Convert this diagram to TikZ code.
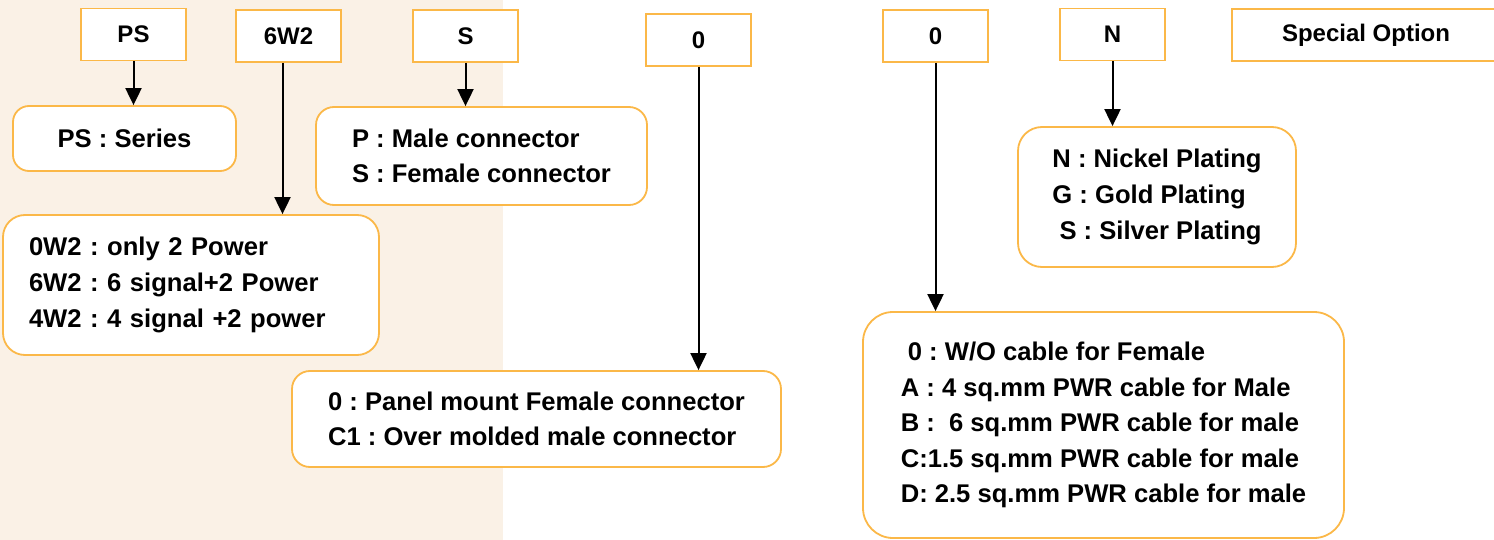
\documentclass[tikz,border=0pt]{standalone}
\usepackage{fontspec}
\setmainfont{Liberation Sans}
\frenchspacing
\usetikzlibrary{arrows.meta}
\definecolor{boxorange}{HTML}{FBB848}
\definecolor{paper}{HTML}{FAF1E6}
\tikzset{
	code/.style={draw=boxorange,line width=0.9pt,fill=white,minimum width=52.5pt,minimum height=26pt,inner sep=0pt,font=\fontsize{12}{14}\selectfont\bfseries},
	desc/.style={draw=boxorange,line width=0.9pt,fill=white,rounded corners=#1,align=left,inner sep=0pt,font=\fontsize{12.8}{17.8}\selectfont\bfseries},
	desc/.default=8pt
}
\begin{document}
\begin{tikzpicture}[x=0.5pt,y=-0.5pt,line width=1pt,>={Triangle[width=8pt,length=8.5pt]}]
	\clip(0,0) rectangle (1494,540);
	\fill[paper] (0,0) rectangle (503,540);
	% part number fields
	\node[code] (ps) at (133.5,34.5) {PS};
	\node[code] (sixw) at (288.5,36) {6W2};
	\node[code] (s) at (465.5,36) {S};
	\node[code] (zeroa) at (698.5,40) {0};
	\node[code] (zerob) at (935.5,36) {0};
	\node[code] (n) at (1112.5,34.5) {N};
	\node[code,minimum width=134pt] (special) at (1366,35) {Special Option};
	% meanings
	\node[desc,minimum width=111.5pt,minimum height=32.5pt] (series) at (124.5,138.5) {PS : Series};
	\node[desc=9pt,minimum width=165.5pt,minimum height=49pt] (gender) at (481.5,156) {P : Male connector\\S : Female connector};
	\node[desc=11pt,minimum width=188pt,minimum height=70pt,text width=162pt,inner xsep=13pt] (power) at (191,285) {0W2 : only 2 Power\\6W2 : 6 signal+2 Power\\4W2 : 4 signal +2 power};
	\node[desc=9pt,minimum width=244.5pt,minimum height=48pt] (mount) at (536.5,419) {0 : Panel mount Female connector\\C1 : Over molded male connector};
	\node[desc=15pt,minimum width=240.5pt,minimum height=113pt] (cable) at (1103.5,425) {~0 : W/O cable for Female\\A : 4 sq.mm PWR cable for Male\\B :~ 6 sq.mm PWR cable for male\\C:1.5 sq.mm PWR cable for male\\D: 2.5 sq.mm PWR cable for male};
	\node[desc=12pt,minimum width=139pt,minimum height=70pt] (plating) at (1157,197) {N : Nickel Plating\\G : Gold Plating\\~S : Silver Plating};
	% arrows
	\draw[->] (ps.south) -- (ps.south |- series.north);
	\draw[->] ([xshift=-3pt]sixw.south) -- ([xshift=-3pt]sixw.south |- power.north);
	\draw[->] (s.south) -- (s.south |- gender.north);
	\draw[->] (zeroa.south) -- (zeroa.south |- mount.north);
	\draw[->] (zerob.south) -- (zerob.south |- cable.north);
	\draw[->] (n.south) -- (n.south |- plating.north);
\end{tikzpicture}
\end{document}
